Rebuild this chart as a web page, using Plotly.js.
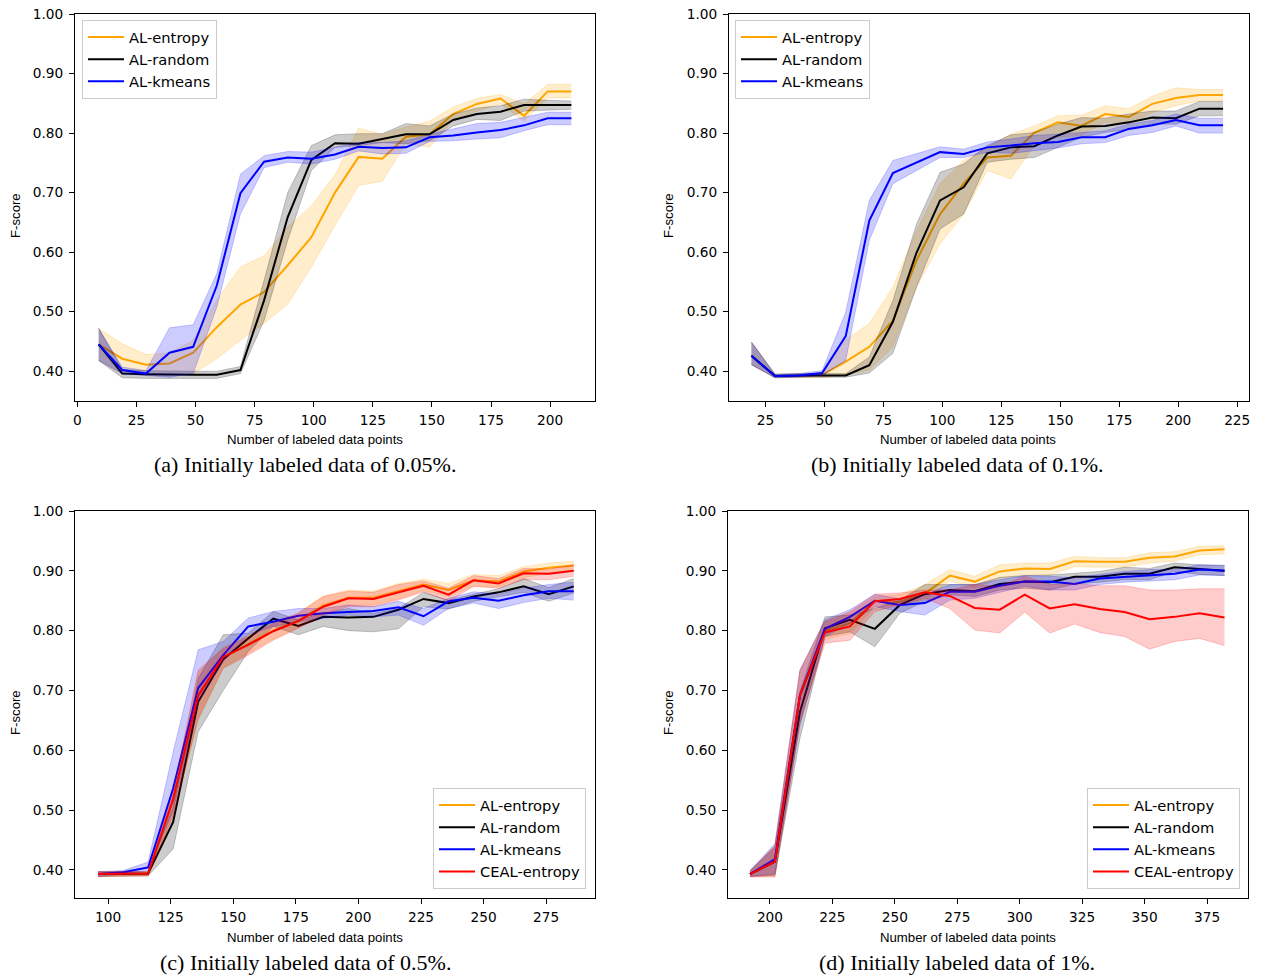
<!DOCTYPE html>
<html>
<head>
<meta charset="utf-8">
<script src="https://cdn.plot.ly/plotly-3.0.1.min.js"></script>
<style>html,body{margin:0;padding:0;background:#fff;}#chart{width:1261px;height:975px;}</style>
</head>
<body>
<div id="chart"></div>
<script>
// ---------- Data ----------
const seriesNames = ['AL-entropy', 'AL-random', 'AL-kmeans', 'CEAL-entropy'];
const captions = ['(a) Initially labeled data of 0.05%.', '(b) Initially labeled data of 0.1%.',
                  '(c) Initially labeled data of 0.5%.', '(d) Initially labeled data of 1%.'];
const xTitle = 'Number of labeled data points';
const yTitle = 'F-score';
const yTicks = [0.4, 0.5, 0.6, 0.7, 0.8, 0.9, 1.0];
const xTicksA = [0, 25, 50, 75, 100, 125, 150, 175, 200];
const xTicksB = [25, 50, 75, 100, 125, 150, 175, 200, 225];
const xTicksC = [100, 125, 150, 175, 200, 225, 250, 275];
const xTicksD = [200, 225, 250, 275, 300, 325, 350, 375];

// (a) 0.05%
const xA = [9,19,29,39,49,59,69,79,89,99,109,119,129,139,149,159,169,179,189,199,209];
const entropyA    = [0.445,0.421,0.411,0.413,0.431,0.474,0.512,0.533,0.578,0.625,0.700,0.760,0.757,0.794,0.798,0.832,0.849,0.858,0.829,0.870,0.870];
const entropyA_hi = [0.472,0.446,0.428,0.431,0.452,0.520,0.575,0.594,0.642,0.678,0.730,0.808,0.798,0.810,0.820,0.844,0.858,0.865,0.849,0.882,0.882];
const entropyA_lo = [0.418,0.396,0.393,0.393,0.396,0.421,0.452,0.480,0.513,0.575,0.645,0.712,0.719,0.782,0.776,0.822,0.837,0.849,0.820,0.859,0.859];
const randomA     = [0.445,0.396,0.395,0.394,0.394,0.394,0.402,0.519,0.659,0.755,0.783,0.782,0.790,0.798,0.798,0.822,0.832,0.836,0.847,0.847,0.847];
const randomA_hi  = [0.472,0.403,0.401,0.400,0.400,0.400,0.408,0.553,0.700,0.779,0.797,0.799,0.799,0.816,0.812,0.832,0.842,0.846,0.857,0.855,0.854];
const randomA_lo  = [0.418,0.389,0.388,0.388,0.388,0.388,0.396,0.485,0.620,0.737,0.776,0.779,0.784,0.782,0.787,0.812,0.823,0.821,0.837,0.839,0.840];
const kmeansA     = [0.445,0.402,0.396,0.431,0.441,0.544,0.699,0.752,0.759,0.757,0.764,0.777,0.775,0.776,0.793,0.796,0.801,0.805,0.813,0.825,0.825];
const kmeansA_hi  = [0.472,0.407,0.401,0.473,0.478,0.564,0.731,0.762,0.769,0.768,0.776,0.784,0.784,0.787,0.798,0.807,0.816,0.818,0.827,0.835,0.835];
const kmeansA_lo  = [0.418,0.396,0.393,0.390,0.396,0.508,0.664,0.742,0.751,0.748,0.756,0.770,0.765,0.766,0.786,0.787,0.790,0.792,0.804,0.814,0.814];

// (b) 0.1%
const xB = [19,29,39,49,59,69,79,89,99,109,119,129,139,149,159,169,179,189,199,209,219];
const entropyB    = [0.426,0.392,0.392,0.394,0.416,0.441,0.485,0.586,0.664,0.715,0.759,0.762,0.801,0.818,0.812,0.832,0.827,0.849,0.859,0.864,0.864];
const entropyB_hi = [0.449,0.395,0.395,0.398,0.453,0.480,0.541,0.636,0.715,0.754,0.776,0.798,0.812,0.829,0.830,0.846,0.841,0.862,0.876,0.873,0.873];
const entropyB_lo = [0.411,0.389,0.389,0.389,0.394,0.402,0.441,0.541,0.614,0.664,0.737,0.723,0.779,0.793,0.796,0.818,0.815,0.835,0.846,0.854,0.854];
const randomB     = [0.426,0.392,0.393,0.393,0.393,0.410,0.483,0.599,0.687,0.709,0.766,0.776,0.778,0.796,0.811,0.812,0.818,0.826,0.825,0.841,0.841];
const randomB_hi  = [0.449,0.395,0.396,0.396,0.396,0.424,0.519,0.647,0.734,0.748,0.779,0.797,0.801,0.815,0.826,0.825,0.832,0.837,0.837,0.853,0.853];
const randomB_lo  = [0.411,0.389,0.390,0.390,0.390,0.397,0.430,0.541,0.639,0.664,0.751,0.756,0.759,0.776,0.793,0.801,0.807,0.815,0.815,0.829,0.829];
const kmeansB     = [0.426,0.392,0.393,0.397,0.459,0.653,0.733,0.751,0.768,0.765,0.776,0.779,0.783,0.785,0.793,0.793,0.807,0.813,0.822,0.813,0.813];
const kmeansB_hi  = [0.449,0.395,0.396,0.401,0.499,0.687,0.754,0.765,0.777,0.773,0.785,0.790,0.796,0.798,0.801,0.804,0.815,0.821,0.832,0.825,0.825];
const kmeansB_lo  = [0.411,0.389,0.390,0.393,0.418,0.620,0.715,0.737,0.759,0.759,0.768,0.766,0.770,0.775,0.782,0.784,0.796,0.801,0.812,0.800,0.800];

// (c) 0.5%
const xC = [96,106,116,126,136,146,156,166,176,186,196,206,216,226,236,246,256,266,276,286];
const entropyC    = [0.393,0.393,0.394,0.515,0.690,0.755,0.778,0.800,0.817,0.842,0.855,0.855,0.866,0.877,0.868,0.884,0.882,0.899,0.905,0.909];
const entropyC_hi = [0.397,0.397,0.397,0.530,0.730,0.772,0.792,0.814,0.830,0.858,0.868,0.866,0.879,0.886,0.879,0.894,0.892,0.907,0.913,0.916];
const entropyC_lo = [0.389,0.389,0.390,0.490,0.650,0.738,0.762,0.786,0.805,0.828,0.842,0.843,0.853,0.867,0.857,0.874,0.873,0.889,0.895,0.901];
const randomC     = [0.393,0.393,0.394,0.480,0.681,0.752,0.787,0.820,0.808,0.823,0.822,0.823,0.835,0.853,0.846,0.857,0.864,0.874,0.861,0.874];
const randomC_hi  = [0.397,0.397,0.397,0.505,0.720,0.793,0.796,0.832,0.818,0.829,0.837,0.829,0.837,0.864,0.851,0.861,0.870,0.887,0.872,0.887];
const randomC_lo  = [0.389,0.389,0.390,0.435,0.631,0.700,0.765,0.807,0.793,0.807,0.800,0.798,0.803,0.840,0.836,0.849,0.857,0.864,0.849,0.863];
const kmeansC     = [0.393,0.396,0.404,0.536,0.704,0.759,0.807,0.815,0.825,0.829,0.831,0.833,0.839,0.824,0.849,0.855,0.850,0.859,0.866,0.866];
const kmeansC_hi  = [0.397,0.399,0.413,0.597,0.768,0.782,0.821,0.832,0.837,0.837,0.843,0.840,0.849,0.837,0.854,0.865,0.861,0.871,0.877,0.881];
const kmeansC_lo  = [0.389,0.393,0.399,0.499,0.681,0.748,0.793,0.807,0.815,0.821,0.826,0.823,0.826,0.809,0.837,0.846,0.837,0.847,0.854,0.851];
const cealC       = [0.393,0.393,0.394,0.519,0.692,0.756,0.776,0.799,0.816,0.840,0.854,0.853,0.864,0.875,0.860,0.884,0.879,0.896,0.895,0.900];
const cealC_hi    = [0.397,0.397,0.397,0.530,0.734,0.770,0.790,0.812,0.829,0.857,0.866,0.864,0.877,0.883,0.871,0.892,0.887,0.904,0.903,0.910];
const cealC_lo    = [0.389,0.389,0.390,0.491,0.653,0.737,0.759,0.784,0.804,0.826,0.840,0.840,0.851,0.865,0.849,0.874,0.871,0.885,0.885,0.891];

// (d) 1%
const xD = [192,202,212,222,232,242,252,262,272,282,292,302,312,322,332,342,352,362,372,382];
const entropyD    = [0.393,0.414,0.690,0.800,0.812,0.850,0.848,0.862,0.892,0.882,0.899,0.904,0.903,0.916,0.915,0.915,0.922,0.924,0.934,0.936];
const entropyD_hi = [0.397,0.440,0.730,0.815,0.830,0.857,0.860,0.877,0.902,0.891,0.910,0.913,0.913,0.924,0.922,0.922,0.930,0.932,0.941,0.942];
const entropyD_lo = [0.389,0.390,0.645,0.785,0.795,0.840,0.843,0.851,0.883,0.872,0.888,0.893,0.893,0.907,0.906,0.906,0.913,0.916,0.927,0.928];
const randomD     = [0.393,0.414,0.664,0.804,0.818,0.803,0.843,0.861,0.868,0.866,0.878,0.882,0.881,0.890,0.890,0.895,0.895,0.906,0.903,0.900];
const randomD_hi  = [0.399,0.438,0.698,0.823,0.826,0.837,0.851,0.877,0.877,0.877,0.889,0.892,0.893,0.896,0.899,0.906,0.904,0.913,0.910,0.909];
const randomD_lo  = [0.389,0.391,0.620,0.790,0.798,0.773,0.829,0.849,0.860,0.857,0.868,0.871,0.868,0.878,0.881,0.885,0.885,0.899,0.894,0.892];
const kmeansD     = [0.393,0.418,0.692,0.803,0.823,0.850,0.843,0.846,0.865,0.865,0.875,0.882,0.882,0.878,0.887,0.890,0.893,0.895,0.902,0.900];
const kmeansD_hi  = [0.399,0.444,0.734,0.818,0.835,0.861,0.853,0.860,0.877,0.877,0.885,0.892,0.891,0.888,0.894,0.899,0.902,0.902,0.910,0.909];
const kmeansD_lo  = [0.389,0.393,0.642,0.790,0.812,0.840,0.832,0.826,0.851,0.854,0.864,0.874,0.868,0.868,0.877,0.881,0.883,0.885,0.893,0.892];
const cealD       = [0.393,0.414,0.692,0.797,0.807,0.849,0.853,0.864,0.858,0.838,0.835,0.860,0.837,0.844,0.836,0.831,0.819,0.823,0.829,0.822];
const cealD_hi    = [0.397,0.441,0.734,0.815,0.832,0.861,0.863,0.868,0.868,0.877,0.874,0.891,0.877,0.879,0.875,0.875,0.868,0.868,0.870,0.870];
const cealD_lo    = [0.388,0.388,0.647,0.779,0.784,0.832,0.843,0.854,0.837,0.801,0.796,0.831,0.796,0.811,0.797,0.790,0.769,0.782,0.787,0.775];

// ---------- Build ----------
const colors = {'AL-entropy':[255,165,0], 'AL-random':[0,0,0], 'AL-kmeans':[0,0,255], 'CEAL-entropy':[255,0,0]};
const W = 1261, H = 975;
const px = v => v / W, py = v => 1 - v / H;
const traces = [];

function addSeries(name, x, mid, lo, hi, xa, ya, legendKey) {
  const c = colors[name];
  const rgb = 'rgb(' + c.join(',') + ')';
  const edge = 'rgba(' + c.join(',') + ',0.25)';
  const fill = 'rgba(' + c.join(',') + ',0.2)';
  traces.push({x: x, y: hi, xaxis: xa, yaxis: ya, mode: 'lines', line: {color: edge, width: 0.8},
               showlegend: false, hoverinfo: 'skip', legend: legendKey});
  traces.push({x: x, y: lo, xaxis: xa, yaxis: ya, mode: 'lines', line: {color: edge, width: 0.8},
               fill: 'tonexty', fillcolor: fill, showlegend: false, hoverinfo: 'skip', legend: legendKey});
  traces.push({x: x, y: mid, xaxis: xa, yaxis: ya, mode: 'lines', name: name, line: {color: rgb, width: 2},
               legend: legendKey});
}

addSeries('AL-entropy', xA, entropyA, entropyA_lo, entropyA_hi, 'x', 'y', 'legend');
addSeries('AL-random',  xA, randomA,  randomA_lo,  randomA_hi,  'x', 'y', 'legend');
addSeries('AL-kmeans',  xA, kmeansA,  kmeansA_lo,  kmeansA_hi,  'x', 'y', 'legend');

addSeries('AL-entropy', xB, entropyB, entropyB_lo, entropyB_hi, 'x2', 'y2', 'legend2');
addSeries('AL-random',  xB, randomB,  randomB_lo,  randomB_hi,  'x2', 'y2', 'legend2');
addSeries('AL-kmeans',  xB, kmeansB,  kmeansB_lo,  kmeansB_hi,  'x2', 'y2', 'legend2');

addSeries('AL-entropy',   xC, entropyC, entropyC_lo, entropyC_hi, 'x3', 'y3', 'legend3');
addSeries('AL-random',    xC, randomC,  randomC_lo,  randomC_hi,  'x3', 'y3', 'legend3');
addSeries('AL-kmeans',    xC, kmeansC,  kmeansC_lo,  kmeansC_hi,  'x3', 'y3', 'legend3');
addSeries('CEAL-entropy', xC, cealC,    cealC_lo,    cealC_hi,    'x3', 'y3', 'legend3');

addSeries('AL-entropy',   xD, entropyD, entropyD_lo, entropyD_hi, 'x4', 'y4', 'legend4');
addSeries('AL-random',    xD, randomD,  randomD_lo,  randomD_hi,  'x4', 'y4', 'legend4');
addSeries('AL-kmeans',    xD, kmeansD,  kmeansD_lo,  kmeansD_hi,  'x4', 'y4', 'legend4');
addSeries('CEAL-entropy', xD, cealD,    cealD_lo,    cealD_hi,    'x4', 'y4', 'legend4');

const tickFont = {family: 'DejaVu Sans', size: 13.7, color: '#000'};
function xAxis(domain, range, ticks, anchor) {
  return {domain: domain, range: range, tickvals: ticks, ticktext: ticks.map(String), anchor: anchor,
          showgrid: false, zeroline: false, showline: true, mirror: true, linecolor: '#000', linewidth: 1,
          ticks: 'outside', ticklen: 5, tickwidth: 1, tickcolor: '#000', tickfont: tickFont, ticklabelstandoff: 2};
}
function yAxis(domain, range, anchor) {
  return {domain: domain, range: range, tickvals: yTicks, ticktext: yTicks.map(v => v.toFixed(2)), anchor: anchor,
          showgrid: false, zeroline: false, showline: true, mirror: true, linecolor: '#000', linewidth: 1,
          ticks: 'outside', ticklen: 5, tickwidth: 1, tickcolor: '#000', tickfont: tickFont, ticklabelstandoff: 3};
}
const legendBase = {bgcolor: 'rgba(255,255,255,0.8)', bordercolor: '#cccccc', borderwidth: 1, traceorder: 'normal',
                    itemwidth: 36, font: {family: 'DejaVu Sans', size: 14.7, color: '#000'}, tracegroupgap: 0};

const annFont = {family: 'Liberation Sans', size: 13.2, color: '#000'};
const capFont = {family: 'Liberation Serif', size: 22, color: '#000'};
function ann(text, x, y, font, angle) {
  return {text: text, x: px(x), y: py(y), xref: 'paper', yref: 'paper', showarrow: false,
          xanchor: 'center', yanchor: 'middle', font: font, textangle: angle || 0};
}

const layout = {
  width: W, height: H, margin: {l: 0, r: 0, t: 0, b: 0},
  paper_bgcolor: '#fff', plot_bgcolor: '#fff', showlegend: true,
  xaxis:  xAxis([px(75),  px(595)],  [-1, 219],    xTicksA, 'y'),
  yaxis:  yAxis([py(401), py(14)],   [0.35, 1.0],  'x'),
  xaxis2: xAxis([px(729), px(1249)], [9.5, 230],   xTicksB, 'y2'),
  yaxis2: yAxis([py(401), py(14)],   [0.35, 1.0],  'x2'),
  xaxis3: xAxis([px(75),  px(595)],  [86.8, 294.5], xTicksC, 'y3'),
  yaxis3: yAxis([py(898), py(511)],  [0.353, 1.0], 'x3'),
  xaxis4: xAxis([px(728), px(1248)], [183.2, 391.4], xTicksD, 'y4'),
  yaxis4: yAxis([py(898), py(511)],  [0.353, 1.0], 'x4'),
  legend:  Object.assign({}, legendBase, {x: px(82),   y: py(20),  xanchor: 'left',  yanchor: 'top'}),
  legend2: Object.assign({}, legendBase, {x: px(735),  y: py(20),  xanchor: 'left',  yanchor: 'top'}),
  legend3: Object.assign({}, legendBase, {x: px(586),  y: py(889), xanchor: 'right', yanchor: 'bottom'}),
  legend4: Object.assign({}, legendBase, {x: px(1240), y: py(889), xanchor: 'right', yanchor: 'bottom'}),
  annotations: [
    ann(xTitle, 315, 439, annFont), ann(xTitle, 968, 439, annFont),
    ann(xTitle, 315, 937, annFont), ann(xTitle, 968, 937, annFont),
    ann(yTitle, 15, 216, annFont, -90), ann(yTitle, 668, 216, annFont, -90),
    ann(yTitle, 15, 713, annFont, -90), ann(yTitle, 668, 713, annFont, -90),
    ann(captions[0], 305, 464, capFont), ann(captions[1], 957, 464, capFont),
    ann(captions[2], 305, 962, capFont), ann(captions[3], 957, 962, capFont)
  ]
};

Plotly.newPlot('chart', traces, layout, {staticPlot: true, displayModeBar: false});
</script>
</body>
</html>
